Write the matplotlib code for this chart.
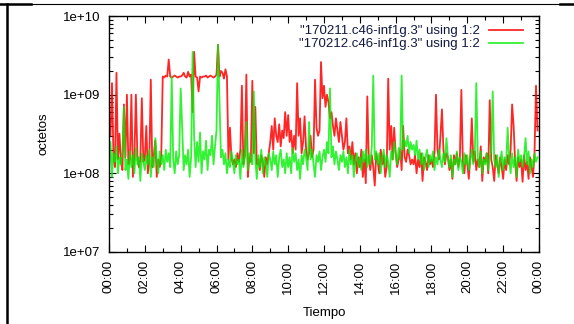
import numpy as np
import matplotlib
matplotlib.use("Agg")
import matplotlib.pyplot as plt
from matplotlib.lines import Line2D
from matplotlib.ticker import LogLocator, FixedLocator, NullFormatter

plt.rcParams['font.family'] = ['Liberation Sans', 'DejaVu Sans']

# ---- data (octets, in units of 1e6), one row per hour, 5-minute samples ----
red_mo = [
    [450, 300, 1400, 160, 120, 1900, 150, 320, 140, 110, 750, 160],
    [1000, 130, 150, 1000, 90, 160, 1000, 170, 120, 150, 900, 140],
    [160, 400, 100, 140, 1550, 120, 170, 260, 90, 150, 120, 170],
    [1700, 1650, 1750, 1700, 2800, 1700, 1650, 1700, 1750, 1700, 1650, 1700],
    [1700, 1750, 1900, 1700, 1650, 1950, 1700, 1800, 600, 3500, 1700, 1650],
    [1100, 1700, 1650, 1700, 1700, 1750, 1650, 1700, 1750, 1700, 1650, 1700],
    [1800, 4300, 1700, 2000, 1900, 1600, 2100, 1700, 150, 380, 160, 130],
    [150, 120, 180, 140, 200, 1300, 130, 170, 1800, 90, 160, 140],
    [1500, 180, 700, 130, 150, 110, 170, 140, 90, 160, 130, 180],
    [250, 400, 200, 500, 300, 250, 420, 220, 350, 280, 600, 300],
    [550, 250, 350, 180, 300, 200, 1400, 300, 500, 180, 250, 530],
    [200, 150, 180, 300, 160, 200, 1550, 380, 300, 350, 2600, 900],
    [1300, 700, 1000, 800, 500, 600, 400, 300, 500, 350, 250, 450],
    [300, 200, 250, 500, 180, 220, 150, 250, 130, 180, 100, 160],
    [120, 200, 90, 150, 75, 950, 150, 110, 170, 120, 70, 180],
    [140, 100, 200, 130, 170, 90, 120, 1600, 200, 400, 150, 380],
    [180, 120, 150, 200, 110, 400, 160, 140, 200, 170, 130, 150],
    [130, 170, 100, 150, 120, 180, 80, 160, 140, 110, 170, 130],
    [150, 120, 180, 1000, 200, 150, 300, 650, 200, 130, 180, 160],
    [110, 150, 85, 170, 130, 180, 120, 160, 1150, 140, 100, 170],
    [130, 85, 170, 500, 140, 190, 110, 150, 120, 220, 80, 160],
    [140, 180, 100, 850, 150, 120, 80, 170, 130, 100, 160, 120],
    [85, 150, 110, 170, 130, 200, 750, 400, 140, 80, 160, 120],
    [150, 78, 170, 110, 140, 85, 160, 120, 90, 180, 1300, 350],
]
green_mo = [
    [120, 250, 90, 180, 140, 220, 100, 160, 130, 200, 700, 110],
    [150, 85, 190, 120, 170, 100, 210, 130, 160, 80, 180, 140],
    [110, 170, 130, 200, 90, 160, 120, 280, 150, 100, 190, 130],
    [170, 110, 200, 140, 180, 120, 1700, 150, 100, 190, 130, 170],
    [1200, 400, 110, 170, 130, 200, 90, 160, 3500, 300, 120, 250],
    [140, 330, 100, 190, 150, 260, 110, 200, 170, 300, 130, 220],
    [350, 4300, 800, 160, 200, 130, 180, 100, 150, 120, 190, 140],
    [100, 170, 130, 150, 85, 200, 120, 160, 450, 110, 180, 140],
    [130, 1100, 150, 85, 170, 120, 200, 100, 160, 140, 90, 180],
    [150, 110, 190, 130, 170, 90, 160, 200, 120, 150, 100, 180],
    [120, 160, 100, 210, 140, 180, 110, 150, 85, 170, 130, 200],
    [160, 110, 450, 150, 200, 130, 90, 170, 140, 190, 110, 160],
    [200, 140, 250, 180, 1200, 160, 220, 130, 190, 150, 110, 170],
    [140, 190, 120, 160, 100, 200, 130, 170, 90, 150, 180, 120],
    [160, 110, 190, 140, 200, 120, 170, 130, 220, 1750, 150, 190],
    [130, 180, 100, 160, 200, 120, 170, 140, 90, 190, 150, 250],
    [180, 130, 210, 150, 1750, 200, 260, 220, 300, 180, 250, 200],
    [230, 170, 260, 150, 200, 130, 180, 110, 160, 200, 120, 170],
    [140, 190, 110, 160, 130, 200, 150, 120, 180, 140, 280, 160],
    [120, 170, 90, 150, 130, 190, 110, 160, 140, 100, 180, 130],
    [170, 110, 150, 200, 130, 180, 1400, 160, 120, 190, 100, 150],
    [130, 180, 110, 160, 200, 1100, 150, 120, 170, 90, 140, 190],
    [110, 160, 130, 380, 150, 100, 180, 120, 160, 90, 200, 140],
    [170, 120, 160, 280, 130, 190, 100, 150, 120, 180, 140, 160],
]
red_label = '"170211.c46-inf1g.3" using 1:2'
green_label = '"170212.c46-inf1g.3" using 1:2'
x_tick_hours = [0, 2, 4, 6, 8, 10, 12, 14, 16, 18, 20, 22, 24]
x_tick_labels = ['00:00', '02:00', '04:00', '06:00', '08:00', '10:00', '12:00',
                 '14:00', '16:00', '18:00', '20:00', '22:00', '00:00']
y_tick_values = [1e7, 1e8, 1e9, 1e10]
y_tick_labels = ['1e+07', '1e+08', '1e+09', '1e+10']
sample_minutes = 5

red = np.array(red_mo, dtype=float).ravel() * 1e6
green = np.array(green_mo, dtype=float).ravel() * 1e6
t = np.arange(red.size) * sample_minutes / 60.0

W, H = 574, 324
fig = plt.figure(figsize=(W / 100, H / 100), dpi=100)
ax = fig.add_axes([109 / W, 1 - 252 / H, 430 / W, 236 / H])

ax.plot(t, red, color='#ff0000', lw=1.3, alpha=0.85, label=red_label)
ax.plot(t, green, color='#00ee00', lw=1.3, alpha=0.8, label=green_label)

ax.set_yscale('log')
ax.set_ylim(1e7, 1e10)
ax.set_xlim(0, 24)

fs = 9.5
ax.xaxis.set_major_locator(FixedLocator(x_tick_hours))
ax.set_xticklabels(x_tick_labels, rotation=90, fontsize=fs)
ax.xaxis.set_minor_locator(FixedLocator(list(range(1, 24, 2))))
ax.yaxis.set_major_locator(FixedLocator(y_tick_values))
ax.set_yticklabels(y_tick_labels, fontsize=fs)
ax.yaxis.set_minor_locator(LogLocator(base=10, subs=np.arange(2, 10)))
ax.yaxis.set_minor_formatter(NullFormatter())

ax.tick_params(which='both', direction='in', top=True, right=True, width=0.8)
ax.tick_params(which='major', length=5, pad=6)
ax.tick_params(which='minor', length=3)
for s in ax.spines.values():
    s.set_linewidth(1.0)

ax.set_ylabel('octetos', fontsize=fs, labelpad=10)
ax.set_xlabel('Tiempo', fontsize=fs, labelpad=9.5)

leg = ax.legend(loc='upper right', frameon=False, markerfirst=False, fontsize=fs,
                handlelength=2.6, handletextpad=0.7, borderaxespad=0.3,
                labelspacing=0.05, bbox_to_anchor=(0.985, 1.0))
for txt in leg.get_texts():
    txt.set_color('#101840')
    txt.set_ha('right')

# page border fragments
fig.add_artist(Line2D([0, 1], [1 - 4 / H, 1 - 4 / H], color='black', lw=0.8))
fig.add_artist(Line2D([0, 31 / W], [1 - 4 / H, 1 - 4 / H], color='black', lw=1.8))
fig.add_artist(Line2D([560 / W, 1], [1 - 4 / H, 1 - 4 / H], color='black', lw=1.8))
fig.add_artist(Line2D([7 / W, 7 / W], [0, 1 - 4 / H], color='black', lw=1.8))

fig.savefig('out.png', dpi=100)
